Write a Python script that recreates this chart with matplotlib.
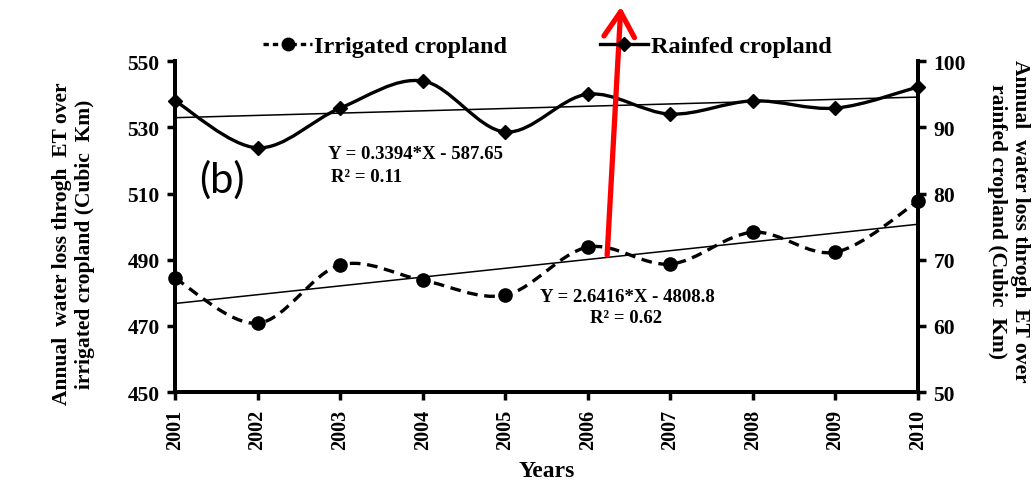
import matplotlib
matplotlib.use("Agg")
import matplotlib.pyplot as plt
import numpy as np
from matplotlib.path import Path
from matplotlib.patches import PathPatch, FancyArrowPatch
from matplotlib.lines import Line2D

plt.rcParams['font.family'] = ['Liberation Serif', 'DejaVu Serif']
plt.rcParams['font.weight'] = 'bold'

# data
years = [2001, 2002, 2003, 2004, 2005, 2006, 2007, 2008, 2009, 2010]
irrigated = [484.4, 470.8, 488.4, 483.8, 479.3, 493.8, 488.7, 498.3, 492.3, 507.7]
rainfed = [94.0, 86.9, 92.9, 97.0, 89.3, 95.0, 92.0, 94.0, 92.9, 96.1]

irr_eq = ["Y = 2.6416*X - 4808.8", "R\u00b2 = 0.62"]
rain_eq = ["Y = 0.3394*X - 587.65", "R\u00b2 = 0.11"]


def smooth_path(x, y):
    '''
    excel-like smoothed line: cubic bezier between the points,
    control points from the neighbouring points (1/6 rule)
    '''
    pts = np.column_stack([x, y]).astype(float)
    n = len(pts)
    verts = [pts[0]]
    codes = [Path.MOVETO]
    for i in range(n - 1):
        p_prev = pts[max(i - 1, 0)]
        p0 = pts[i]
        p1 = pts[i + 1]
        p_next = pts[min(i + 2, n - 1)]
        c1 = p0 + (p1 - p_prev) / 6
        c2 = p1 - (p_next - p0) / 6
        verts += [c1, c2, p1]
        codes += [Path.CURVE4] * 3
    return Path(verts, codes)


fig = plt.figure(figsize=(10.33, 4.89), dpi=100)
ax = fig.add_axes([0.1694, 0.196, 0.7193, 0.677])
ax2 = ax.twinx()

# irrigated -> left axis
ax.add_patch(PathPatch(smooth_path(years, irrigated), fill=False, edgecolor='black',
                       lw=2.4, linestyle=(0, (3.2, 2.0)), clip_on=False))
ax.plot(years, irrigated, linestyle='none', marker='o', ms=9.5, color='black', clip_on=False, zorder=5)
k, b = np.polyfit(years, irrigated, 1)
ax.plot([years[0], years[-1]], [k * years[0] + b, k * years[-1] + b], color='black', lw=1.1)

# rainfed -> right axis
ax2.add_patch(PathPatch(smooth_path(years, rainfed), fill=False, edgecolor='black', lw=2.4, clip_on=False))
ax2.plot(years, rainfed, linestyle='none', marker='D', ms=7.5, color='black', clip_on=False, zorder=5)
k2, b2 = np.polyfit(years, rainfed, 1)
ax2.plot([years[0], years[-1]], [k2 * years[0] + b2, k2 * years[-1] + b2], color='black', lw=1.1)

ax.set_xlim(2001, 2010)
ax.set_ylim(450, 550)
ax2.set_ylim(50, 100)
ax.set_xticks(years)
ax.set_xticklabels([str(y) for y in years], rotation=90, fontsize=14.5, fontweight='bold')
ax.set_yticks(np.arange(450, 551, 20))
ax2.set_yticks(np.arange(50, 101, 10))
ax.tick_params(axis='y', labelsize=15.5, width=2.5, length=6, direction='out', pad=5)
ax2.tick_params(axis='y', labelsize=15.5, width=2.5, length=6, direction='out', pad=5)
ax.tick_params(axis='x', width=2.5, length=6, direction='out', pad=6)

for a in (ax, ax2):
    a.spines['top'].set_visible(False)
    for s in ('left', 'right', 'bottom'):
        a.spines[s].set_linewidth(2.8)

ax.set_xlabel('Years', fontsize=17, fontweight='bold')
ax.xaxis.set_label_coords(0.5, -0.205)
ax.set_ylabel('Annual  water loss throgh  ET over\nirrigated cropland (Cubic  Km)',
              fontsize=15.5, fontweight='bold', linespacing=1.15)
ax.yaxis.set_label_coords(-0.108, 0.45)
ax2.set_ylabel('Annual  water loss throgh  ET over\nrainfed cropland (Cubic  Km)',
               fontsize=15.5, fontweight='bold', rotation=-90, va='center', linespacing=1.2)
ax2.yaxis.set_label_coords(1.122, 0.52)

# regression equations
ax2.text(2002.85, 86.1, rain_eq[0], fontsize=13.5, fontweight='bold', ha='left', va='center')
ax2.text(2002.89, 82.5, rain_eq[1], fontsize=13.5, fontweight='bold', ha='left', va='center')
ax.text(2006.48, 479.0, irr_eq[0], fontsize=13.5, fontweight='bold', ha='center', va='center')
ax.text(2006.46, 472.7, irr_eq[1], fontsize=13.5, fontweight='bold', ha='center', va='center')

ax.text(2001.57, 514.5, '(b)', fontsize=30, family='Lato', fontweight='normal', ha='center', va='center')

handles = [Line2D([], [], color='black', lw=2.4, linestyle=(0, (1.6, 1.2)), marker='o', ms=9),
           Line2D([], [], color='black', lw=2.4, marker='D', ms=7)]
fig.legend(handles, ['Irrigated cropland', 'Rainfed cropland'], loc='center',
           bbox_to_anchor=(0.53, 0.903), ncol=2, frameon=False,
           handlelength=2.0, handletextpad=0.1, columnspacing=3.8,
           prop={'weight': 'bold', 'size': 17.5})

# red arrow drawn over the figure
fig.patches.append(FancyArrowPatch(
    (607 / 1033, 1 - 259 / 489), (621 / 1033, 1 - 5 / 489), transform=fig.transFigure,
    arrowstyle='->, head_length=9, head_width=5.5', color='red', lw=3.8, mutation_scale=2))

fig.savefig('out.png', dpi=100)
